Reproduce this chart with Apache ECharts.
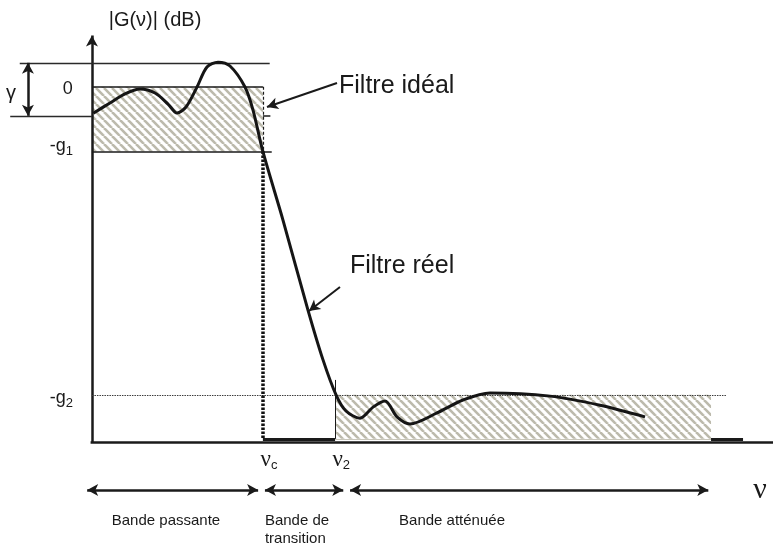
<!DOCTYPE html>
<html>
<head>
<meta charset="utf-8">
<title>Gabarit de filtre</title>
<script src="https://cdn.jsdelivr.net/npm/echarts@6/dist/echarts.min.js"></script>
<style>
  html, body { margin: 0; padding: 0; background: #fff; }
  #chart { width: 773px; height: 545px; }
</style>
</head>
<body>
<div id="chart"></div>
<script>
  // fréquence en unités arbitraires, gain en dB
  const xTicks = [25.1, 35.7];                 // νc, ν2
  const xTickNames = ['{n|ν}{s|c}', '{n|ν}{s|2}'];
  const yTicks = [-0.3, -9.2, -48.1];          // 0, -g1, -g2
  const yTickNames = ['{m|0}', '{m|-g}{s|1}', '{m|-g}{s|2}'];
  const levels = [0, -10, -47.6];              // 0, -g1, -g2
  const ripple = [3.7, -4.5];                  // γ
  const floorGain = -54.4;
  const axisGain = -55;
  const stopEnd = 90.9;
  const bandNames = ['Bande passante', 'Bande de\ntransition', 'Bande atténuée'];
  const bandFrom = [-0.7, 25.4, 37.9];
  const bandTo = [24.4, 36.9, 90.5];

  // filtre réel
  const realFreq = [0.2, 2.65, 4.85, 7.06, 9.26, 11.17, 12.49, 13.81, 15.43, 16.89, 18.51, 20.27, 22.47, 23.65, 25.1,
    28.05, 31.72, 33.93, 35.84, 37.3, 39.36, 41.27, 43.03, 44.79, 46.7, 50.67, 54.48, 58.45, 67.26, 74.6, 81.21];
  const realGain = [-4.1, -2.5, -1.1, -0.35, -0.97, -2.67, -4.06, -3.13, -0.04, 3.05, 3.8, 3.2, -0.04, -3.6, -10,
    -20.6, -34.5, -42.2, -47.6, -50.1, -51.2, -49.5, -48.55, -51.0, -52.1, -50.4, -48.4, -47.3, -47.8, -49.2, -51.0];

  // motif hachuré
  const hatch = (function () {
    const c = document.createElement('canvas');
    c.width = 8;
    c.height = 8;
    const ctx = c.getContext('2d');
    ctx.strokeStyle = '#bcbaac';
    ctx.lineWidth = 2.6;
    [-8, 0, 8].forEach(function (o) {
      ctx.beginPath();
      ctx.moveTo(o, 0);
      ctx.lineTo(o + 8, 8);
      ctx.stroke();
    });
    return c;
  })();

  const ink = '#1a1a1a';
  const sans = 'Liberation Sans';
  const serif = 'Liberation Serif';

  function seg(a, b, style, sym) {
    const s = Object.assign({ type: 'solid' }, style);
    return [
      { coord: a, symbol: sym ? sym[0] : 'none', lineStyle: s },
      { coord: b, symbol: sym ? sym[1] : 'none', lineStyle: s }
    ];
  }

  const thin = { color: '#2a2a2a', width: 1.3 };
  const axisStyle = { color: ink, width: 2.5 };

  const lines = [
    seg([0, axisGain], [0, 7.9], axisStyle, ['none', 'arrow']),
    seg([-0.2, axisGain], [100, axisGain], axisStyle),
    seg([-10.6, ripple[0]], [26.1, ripple[0]], thin),
    seg([-12, ripple[1]], [0, ripple[1]], thin),
    seg([xTicks[0], ripple[1]], [26.2, ripple[1]], { color: ink, width: 1.5 }),
    seg([0, levels[0]], [xTicks[0], levels[0]], { color: ink, width: 1.5 }),
    seg([0, levels[1]], [26.4, levels[1]], { color: ink, width: 1.5 }),
    seg([0, levels[2]], [93.2, levels[2]], { color: '#3a3a3a', width: 1, type: [1.5, 1] }),
    seg([xTicks[0], levels[0]], [xTicks[0], levels[1]], { color: ink, width: 1.2, type: [3, 2] }),
    seg([xTicks[0], levels[1]], [xTicks[0], floorGain], { color: '#111', width: 3.5, type: [2.5, 1.5] }),
    seg([xTicks[0], floorGain], [xTicks[1], floorGain], { color: ink, width: 3 }),
    seg([xTicks[1], -45.3], [xTicks[1], floorGain], { color: ink, width: 1 }),
    seg([xTicks[1], floorGain], [stopEnd, floorGain], { color: '#c8c6ba', width: 1 }),
    seg([stopEnd, floorGain], [95.6, floorGain], { color: ink, width: 3 }),
    // γ
    seg([-9.4, ripple[0]], [-9.4, ripple[1]], { color: ink, width: 2.5 }, ['arrow', 'arrow']),
    // flèches de légende
    seg([35.98, 0.58], [25.7, -3.13], { color: ink, width: 2 }, ['none', 'arrow']),
    seg([36.42, -30.94], [31.87, -34.65], { color: ink, width: 2 }, ['none', 'arrow'])
  ];
  bandNames.forEach(function (n, i) {
    lines.push(seg([bandFrom[i], -62.3], [bandTo[i], -62.3], { color: ink, width: 2.5 }, ['arrow', 'arrow']));
  });

  const rich = {
    m: { fontFamily: sans, fontSize: 18, fill: ink },
    s: { fontFamily: sans, fontSize: 13, fill: ink, lineHeight: 13, padding: [10, 0, 0, 0] },
    n: { fontFamily: serif, fontSize: 23, fill: ink }
  };

  const texts = [];
  yTicks.forEach(function (v, i) {
    texts.push({ at: [-2.8, v], text: yTickNames[i], align: 'right', size: 18 });
  });
  xTicks.forEach(function (v, i) {
    texts.push({ at: [v + 0.9, -57.7], text: xTickNames[i], size: 23 });
  });
  texts.push({ at: [9.26, 10.2], text: '|G(ν)| (dB)', size: 20 });
  texts.push({ at: [-11.9, -1.0], text: 'γ', size: 20 });
  texts.push({ at: [98.1, -62.3], text: 'ν', size: 30, family: serif });
  texts.push({ at: [36.28, 0.11], text: 'Filtre idéal', size: 25, align: 'left' });
  texts.push({ at: [37.89, -27.7], text: 'Filtre réel', size: 25, align: 'left' });
  texts.push({ at: [10.87, -67.1], text: bandNames[0], size: 15 });
  texts.push({ at: [25.4, -68.5], text: bandNames[1], size: 15, align: 'left', lineHeight: 18 });
  texts.push({ at: [52.87, -67.1], text: bandNames[2], size: 15 });

  const chart = echarts.init(document.getElementById('chart'));
  chart.setOption({
    animation: false,
    backgroundColor: '#ffffff',
    grid: { left: 0, right: 0, top: 0, bottom: 0 },
    xAxis: { type: 'value', min: -13.5, max: 100, show: false },
    yAxis: { type: 'value', min: -70.8, max: 13.4, show: false },
    series: [
      {
        // gabarit hachuré
        type: 'custom',
        silent: true,
        clip: false,
        z: 1,
        encode: { x: [0, 2], y: [1, 3] },
        data: [
          [0, levels[0], xTicks[0], levels[1]],
          [xTicks[1], levels[2], stopEnd, floorGain]
        ],
        renderItem: function (params, api) {
          const p0 = api.coord([api.value(0), api.value(1)]);
          const p1 = api.coord([api.value(2), api.value(3)]);
          return {
            type: 'rect',
            shape: { x: p0[0], y: p0[1], width: p1[0] - p0[0], height: p1[1] - p0[1] },
            style: { fill: { image: hatch, repeat: 'repeat' } }
          };
        }
      },
      {
        // traits du gabarit
        type: 'line',
        data: [],
        z: 2,
        silent: true,
        markLine: {
          silent: true,
          animation: false,
          symbol: ['none', 'none'],
          symbolSize: [9, 11],
          label: { show: false },
          lineStyle: { type: 'solid' },
          emphasis: { disabled: true },
          data: lines
        }
      },
      {
        name: 'Filtre réel',
        type: 'line',
        z: 5,
        silent: true,
        smooth: 0.3,
        showSymbol: false,
        lineStyle: { width: 3, color: '#151515' },
        data: realFreq.map(function (f, i) { return [f, realGain[i]]; })
      },
      {
        // textes
        type: 'custom',
        silent: true,
        clip: false,
        z: 6,
        data: texts.map(function (t) { return t.at; }),
        renderItem: function (params, api) {
          const t = texts[params.dataIndex];
          const p = api.coord([api.value(0), api.value(1)]);
          return {
            type: 'text',
            x: p[0],
            y: p[1],
            style: {
              text: t.text,
              fontFamily: t.family || sans,
              fontSize: t.size,
              lineHeight: t.lineHeight,
              fill: ink,
              align: t.align || 'center',
              verticalAlign: 'middle',
              rich: rich
            }
          };
        }
      }
    ]
  });
</script>
</body>
</html>
